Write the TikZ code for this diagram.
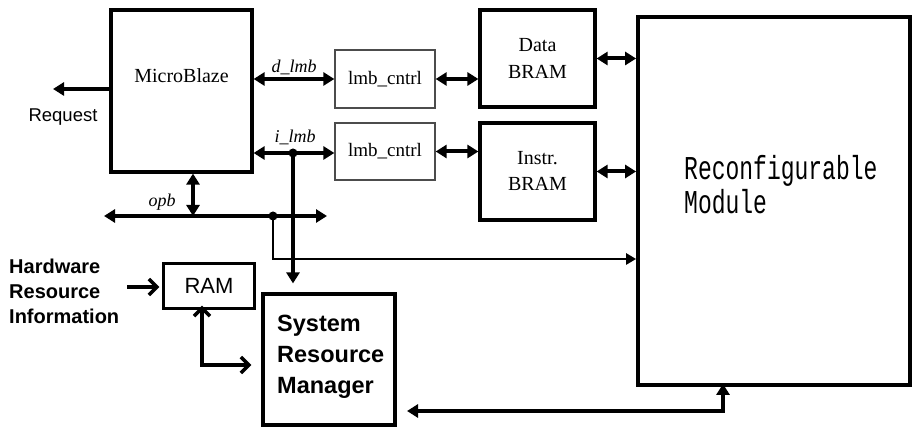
\documentclass[tikz,border=0pt]{standalone}
\usepackage{fontspec}
\setmainfont{Liberation Serif}
\setsansfont{Liberation Sans}
\setmonofont{Liberation Mono}
\usetikzlibrary{arrows.meta}
\tikzset{
  thickbox/.style={draw, line width=3.2pt, inner sep=0pt},
  thinbox/.style={draw=black!70, line width=1.3pt, inner sep=0pt},
  bus/.style={line width=4pt, {Triangle[length=11pt,width=13pt]}-{Triangle[length=11pt,width=13pt]}},
  busone/.style={line width=4pt, -{Triangle[length=11pt,width=13pt]}},
  sig/.style={line width=2.8pt, -{Triangle[length=10pt,width=11pt]}},
  barb/.style={line width=3.5pt, -{Straight Barb[length=8pt,width=16pt]}},
  barbs/.style={line width=3.5pt, {Straight Barb[length=8pt,width=16pt]}-{Straight Barb[length=8pt,width=16pt]}},
  dot/.style={circle, fill, inner sep=0pt, minimum size=9pt},
  lbl/.style={font=\fontsize{18}{18}\selectfont\itshape, inner sep=0pt}
}
\begin{document}
\begin{tikzpicture}[x=1pt,y=-1pt]
\useasboundingbox[fill=white] (0,0) rectangle (913,427);

% boxes
\node[thickbox, minimum width=141pt, minimum height=162pt] (mb) at (181.5,91) {};
\node[inner sep=0pt, font=\fontsize{20}{20}\selectfont] (mbt) at (181.5,76) {MicroBlaze};

\node[thinbox, minimum width=100pt, minimum height=58pt, font=\fontsize{19}{19}\selectfont] (lc1) at (385,79) {lmb\_cntrl};
\node[thinbox, minimum width=100pt, minimum height=57pt, font=\fontsize{19}{19}\selectfont] (lc2) at (385,151.5) {lmb\_cntrl};

\node[thickbox, minimum width=115pt, minimum height=97pt] (db) at (537.5,58.5) {};
\node[inner sep=0pt, font=\fontsize{20}{20}\selectfont] (dbt1) at (537.5,45) {Data};
\node[inner sep=0pt, font=\fontsize{20}{20}\selectfont] (dbt2) at (537.5,72) {BRAM};

\node[thickbox, minimum width=115pt, minimum height=97pt] (ib) at (537.5,171.5) {};
\node[inner sep=0pt, font=\fontsize{20}{20}\selectfont] (ibt1) at (537.5,158) {Instr.};
\node[inner sep=0pt, font=\fontsize{20}{20}\selectfont] (ibt2) at (537.5,184) {BRAM};

\node[draw, line width=3.8pt, inner sep=0pt, minimum width=272pt, minimum height=368pt] (rm) at (774,201) {};
\node[inner sep=0pt, anchor=west, font=\ttfamily\fontsize{23}{23}\selectfont] (rmt1) at (684,171) {\scalebox{1}[1.45]{Reconfigurable}};
\node[inner sep=0pt, anchor=west, font=\ttfamily\fontsize{23}{23}\selectfont] (rmt2) at (684,202) {\scalebox{1}[1.45]{Module}};

\node[draw, line width=2.2pt, inner sep=0pt, minimum width=91pt, minimum height=45pt, font=\sffamily\fontsize{22}{22}\selectfont] (ram) at (209,286) {RAM};

\node[thickbox, minimum width=132pt, minimum height=131pt] (srm) at (329,359.5) {};
\node[inner sep=0pt, anchor=west, align=left, font=\sffamily\bfseries\fontsize{23.5}{31}\selectfont] (srmt) at (277,357) {System\\Resource\\Manager};

\node[inner sep=0pt, anchor=west, align=left, font=\sffamily\bfseries\fontsize{20}{25}\selectfont] (hri) at (9,291) {Hardware\\Resource\\Information};

\node[inner sep=0pt, font=\sffamily\fontsize{18.5}{18.5}\selectfont] (req) at (63,117) {Request};

% labels
\node[lbl] (dl) at (294,67) {d\_lmb};
\node[lbl] (il) at (295,137) {i\_lmb};
\node[lbl] (ol) at (162,202) {opb};

% coordinates
\coordinate (reqtip) at (53,89);
\coordinate (opbL) at (104,216);
\coordinate (opbR) at (327,216);
\coordinate (opbJ) at (193,216);
\coordinate (opbD) at (273,216);
\coordinate (opbC) at (273,259);
\coordinate (iJ) at (293,153);
\coordinate (hriS) at (127,287);
\coordinate (ramC) at (202,365);
\coordinate (bL) at (407,411);
\coordinate (bR) at (723,411);

% connectors
\draw[busone] (mb.west |- reqtip) -- (reqtip);
\draw[bus] (mb.east |- lc1.west) -- (lc1.west);
\draw[bus] (mb.east |- iJ) -- (lc2.west |- iJ);
\draw[bus] (lc1.east) -- (db.west |- lc1.east);
\draw[bus] (lc2.east) -- (ib.west |- lc2.east);
\draw[bus] (db.east) -- (rm.west |- db.east);
\draw[bus] (ib.east) -- (rm.west |- ib.east);
\draw[bus] (opbL) -- (opbR);
\draw[bus] (mb.south -| opbJ) -- (opbJ);
\draw[busone, shorten >=9pt] (iJ) -- (srm.north -| iJ);
\draw[sig] (opbD) -- (opbC) -- (rm.west |- opbC);
\draw[bus] (bL) -- (bR) -- ([yshift=3pt]rm.south -| bR);
\draw[barb] (hriS) -- ([xshift=-3pt]ram.west |- hriS);
\draw[barbs] ([yshift=4pt]ram.south -| ramC) -- (ramC) -- ([xshift=-10pt]srm.west |- ramC);
\node[dot] (d1) at (iJ) {};
\node[dot] (d2) at (opbD) {};
\end{tikzpicture}
\end{document}
